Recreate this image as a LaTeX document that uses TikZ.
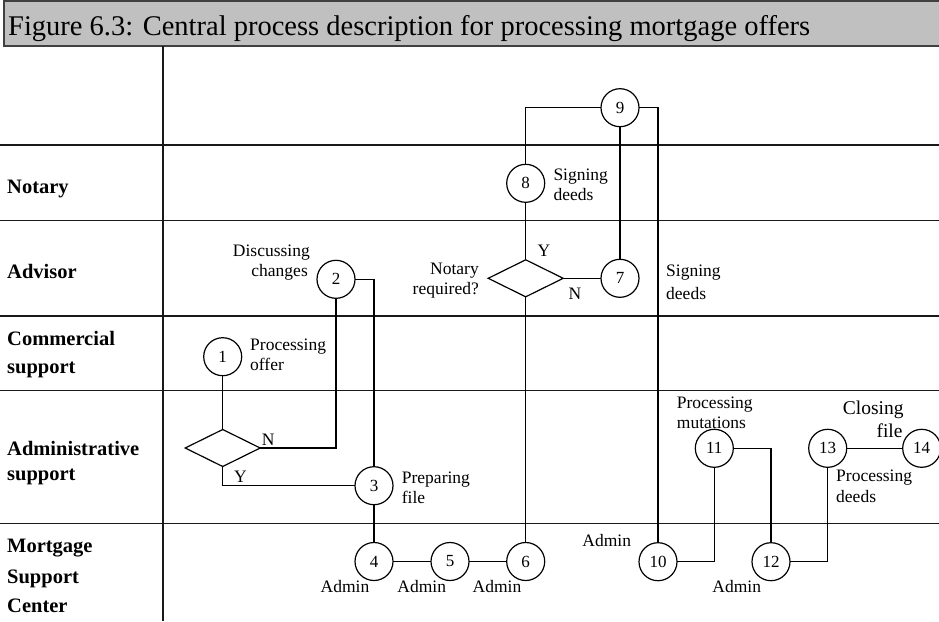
\documentclass[tikz,border=0pt]{standalone}
\usepackage{fontspec}
\setmainfont{Liberation Serif}
\usetikzlibrary{shapes.geometric}
\definecolor{headfill}{HTML}{C0C0C0}
\definecolor{headline}{HTML}{404040}
\begin{document}
\begin{tikzpicture}[x=1pt,y=-1pt,
  rule/.style={line width=1.2pt, draw=black!90},
  flow/.style={line width=1.2pt},
  proc/.style={circle, draw, line width=1.2pt, minimum size=38pt, inner sep=0pt, outer sep=0pt,
    font=\fontsize{17}{20}\selectfont},
  choice/.style={diamond, draw, line width=1.2pt, minimum width=75pt, minimum height=37pt,
    inner sep=0pt, outer sep=0pt},
  lane/.style={anchor=base west, inner sep=0pt, font=\bfseries\fontsize{20.5}{24}\selectfont},
  note/.style={inner sep=0pt, font=\fontsize{17.5}{20}\selectfont},
  bignote/.style={inner sep=0pt, font=\fontsize{19.5}{22}\selectfont}]
\useasboundingbox (0,0) rectangle (939,621);

% title bar
\fill[headfill] (4,1.2) rectangle (945,46);
\draw[headline, line width=1.6pt] (945,1.2) -- (4,1.2) -- (4,46) -- (945,46);
\node[anchor=base west, inner sep=0pt, font=\fontsize{28.5}{32}\selectfont] (title) at (8,35.7)
  {Figure 6.3: Central process description for processing mortgage offers};

% swimlane grid
\draw[rule] (163,46) -- (163,621);
\foreach \yy in {145,220.5,316,390.7,523.3}
  \draw[rule] (0,\yy) -- (939,\yy);

% lane names
\node[lane] (lnot) at (7,193) {Notary};
\node[lane] (ladv) at (7,278.3) {Advisor};
\node[lane] (lcom1) at (7,345) {Commercial};
\node[lane] (lcom2) at (7,373.3) {support};
\node[lane] (ladm1) at (7,455) {Administrative};
\node[lane] (ladm2) at (7,480.5) {support};
\node[lane] (lmsc1) at (7,552) {Mortgage};
\node[lane] (lmsc2) at (7,583) {Support};
\node[lane] (lmsc3) at (7,612) {Center};

% process steps
\node[proc] (c1) at (222.7,356.7) {1};
\node[proc] (c2) at (336,279.3) {2};
\node[proc] (c3) at (374,485.7) {3};
\node[proc] (c4) at (374,561.5) {4};
\node[proc] (c5) at (450,561.5) {5};
\node[proc] (c6) at (525.7,561.5) {6};
\node[proc] (c7) at (620,278.3) {7};
\node[proc] (c8) at (525.7,183.3) {8};
\node[proc] (c9) at (620,107.7) {9};
\node[proc] (c10) at (658,561.7) {10};
\node[proc] (c11) at (714.3,448.3) {11};
\node[proc] (c12) at (771,561.7) {12};
\node[proc] (c13) at (827.7,448.3) {13};
\node[proc] (c14) at (921.7,448.3) {14};

% decisions
\node[choice] (d1) at (222.7,448) {};
\node[choice] (d2) at (525.7,278.3) {};

% connectors
\draw[flow] (c1) -- (d1.north);
\draw[flow] (d1.east) -| (c2);
\draw[flow] (d1.south) |- (c3);
\draw[flow] (c2) -| (c3);
\draw[flow] (c3) -- (c4);
\draw[flow] (c4) -- (c5);
\draw[flow] (c5) -- (c6);
\draw[flow] (d2.south) -- (c6);
\draw[flow] (d2.north) -- (c8);
\draw[flow] (d2.east) -- (c7);
\draw[flow] (c7) -- (c9);
\draw[flow] (c8) |- (c9);
\draw[flow] (c9) -| (c10);
\draw[flow] (c10) -| (c11);
\draw[flow] (c11) -| (c12);
\draw[flow] (c12) -| (c13);
\draw[flow] (c13) -- (c14);

% branch labels
\node[note, anchor=base west] (d1n) at (261.7,445) {N};
\node[note, anchor=base west] (d1y) at (234,482.7) {Y};
\node[note, anchor=base west] (d2y) at (537.3,256.7) {Y};
\node[note, anchor=base west] (d2n) at (568.3,299.3) {N};

% step descriptions
\node[note, anchor=base west] (t1a) at (250,350) {Processing};
\node[note, anchor=base west] (t1b) at (250,370) {offer};
\node[note, anchor=base east] (t2a) at (310,256) {Discussing};
\node[note, anchor=base east] (t2b) at (308,276.7) {changes};
\node[note, anchor=base east] (q2a) at (479,274) {Notary};
\node[note, anchor=base east] (q2b) at (479,294) {required?};
\node[note, anchor=base west] (t8a) at (553.3,180.7) {Signing};
\node[note, anchor=base west] (t8b) at (553.3,200) {deeds};
\node[note, anchor=base west] (t9a) at (666,276.7) {Signing};
\node[note, anchor=base west] (t9b) at (666,299) {deeds};
\node[note, anchor=base west] (t3a) at (401.7,483.3) {Preparing};
\node[note, anchor=base west] (t3b) at (401.7,503.3) {file};
\node[note, anchor=base west] (t11a) at (676.7,408.3) {Processing};
\node[note, anchor=base west] (t11b) at (676.7,428.3) {mutations};
\node[bignote, anchor=base west] (t14a) at (842.7,414.3) {Closing};
\node[bignote, anchor=base east] (t14b) at (902.7,437.3) {file};
\node[note, anchor=base west] (t13a) at (836,481.7) {Processing};
\node[note, anchor=base west] (t13b) at (836,502.7) {deeds};

% Mortgage Support Center roles
\node[note, anchor=base] (a4) at (345,592.7) {Admin};
\node[note, anchor=base] (a5) at (421.7,592.7) {Admin};
\node[note, anchor=base] (a6) at (497,592.7) {Admin};
\node[note, anchor=base] (a10) at (606.7,546.7) {Admin};
\node[note, anchor=base] (a12) at (736.7,592.3) {Admin};
\end{tikzpicture}
\end{document}
